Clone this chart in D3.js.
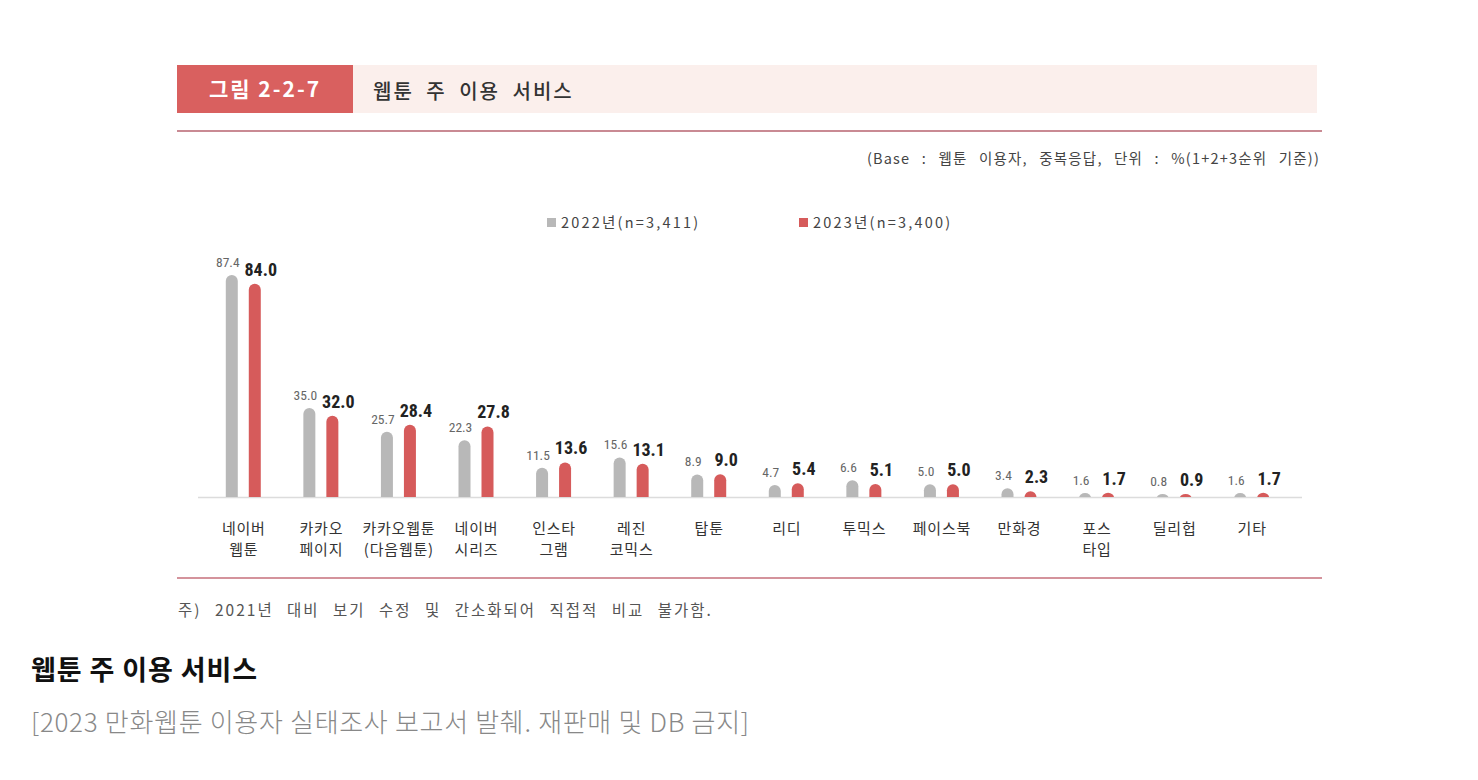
<!DOCTYPE html>
<html><head><meta charset="utf-8">
<script src="https://cdn.jsdelivr.net/npm/d3@7"></script>
<style>
html,body{margin:0;padding:0;background:#fff;}
svg{display:block;}
</style></head>
<body>
<svg id="c" width="1478" height="780"></svg>
<script>
const categories = [["네이버","웹툰"],["카카오","페이지"],["카카오웹툰","(다음웹툰)"],["네이버","시리즈"],["인스타","그램"],["레진","코믹스"],["탑툰"],["리디"],["투믹스"],["페이스북"],["만화경"],["포스","타입"],["딜리헙"],["기타"]];
const values2022 = [87.4,35.0,25.7,22.3,11.5,15.6,8.9,4.7,6.6,5.0,3.4,1.6,0.8,1.6];
const values2023 = [84.0,32.0,28.4,27.8,13.6,13.1,9.0,5.4,5.1,5.0,2.3,1.7,0.9,1.7];
const seriesNames = ["2022년(n=3,411)","2023년(n=3,400)"];
const colors = ["#b8b8b8","#d65b5b"];

const svg = d3.select("#c");
const KR = "'Noto Sans CJK KR','Noto Sans',sans-serif";
const NUM = "'Liberation Sans Narrow','Roboto Condensed','Liberation Sans',sans-serif";

// header
svg.append("rect").attr("x",177).attr("y",65).attr("width",176).attr("height",48).attr("fill","#d9605f");
svg.append("rect").attr("x",353).attr("y",65).attr("width",964).attr("height",48).attr("fill","#fbefec");
svg.append("text").attr("x",265).attr("y",97).attr("text-anchor","middle").attr("fill","#fff")
  .attr("font-family",KR).attr("font-weight",700).attr("font-size",21).attr("letter-spacing",2).text("그림 2-2-7");
svg.append("text").attr("x",373).attr("y",99).attr("fill","#333").attr("font-family",KR).attr("font-weight",500)
  .attr("font-size",20).attr("letter-spacing",2).attr("word-spacing",6).text("웹툰 주 이용 서비스");
svg.append("line").attr("x1",177).attr("x2",1322).attr("y1",131).attr("y2",131).attr("stroke","#c98a93").attr("stroke-width",2);
svg.append("text").attr("x",1320).attr("y",164).attr("text-anchor","end").attr("fill","#444").attr("font-family",KR).attr("font-size",14.5)
  .attr("letter-spacing",1.2).attr("word-spacing",7)
  .text("(Base : 웹툰 이용자, 중복응답, 단위 : %(1+2+3순위 기준))");

// legend
const legX = [547, 799];
seriesNames.forEach((s,i)=>{
  svg.append("rect").attr("x",legX[i]).attr("y",218).attr("width",9).attr("height",9).attr("fill",colors[i]);
  svg.append("text").attr("x",legX[i]+14).attr("y",228).attr("fill","#444").attr("font-family",KR).attr("font-size",14.5)
    .attr("letter-spacing",2.2).text(s);
});

// scales
const baseY = 497;
const x = d3.scaleBand().domain(d3.range(categories.length)).range([204,1290]).paddingInner(0).paddingOuter(0);
const y = d3.scaleLinear().domain([0,87.4]).range([baseY,275]);
const bw = 12;

svg.append("defs").append("clipPath").attr("id","clipBase").append("rect").attr("x",0).attr("y",0).attr("width",1478).attr("height",baseY);

svg.append("line").attr("x1",198).attr("x2",1302).attr("y1",baseY+0.5).attr("y2",baseY+0.5).attr("stroke","#dcdcdc").attr("stroke-width",1.5);

const g = svg.append("g");
[values2022, values2023].forEach((vals, si)=>{
  vals.forEach((v,i)=>{
    const cx = x(i) + x.bandwidth()/2 + (si===0 ? -11 : 12);
    const top = y(v);
    const r = bw/2;
    g.append("rect").attr("clip-path","url(#clipBase)")
      .attr("x",cx-bw/2).attr("y",Math.min(top, baseY - 3)).attr("width",bw)
      .attr("height",baseY - Math.min(top, baseY-3) + r).attr("rx",r).attr("ry",r)
      .attr("fill",colors[si]);
    const lblY = Math.min(top, baseY-3) - 8;
    g.append("text").attr("x", si===0 ? cx-4 : cx+6).attr("y",lblY).attr("text-anchor","middle")
      .attr("fill", si===0 ? "#666" : "#222")
      .attr("font-family",NUM).attr("font-weight", si===0 ? 400 : 700)
      .attr("font-size", si===0 ? 13.5 : 18)
      .text(v.toFixed(1));
  });
});

// category labels
categories.forEach((lines,i)=>{
  const cx = x(i) + x.bandwidth()/2 + 1;
  const t = svg.append("text").attr("text-anchor","middle").attr("fill","#333").attr("font-family",KR).attr("font-size",15).attr("letter-spacing",0.8);
  lines.forEach((ln,j)=>{
    t.append("tspan").attr("x",cx).attr("y",534 + j*21).text(ln);
  });
});

svg.append("line").attr("x1",177).attr("x2",1322).attr("y1",578).attr("y2",578).attr("stroke","#d4939c").attr("stroke-width",2);
svg.append("text").attr("x",178).attr("y",616).attr("fill","#555").attr("font-family",KR).attr("font-size",15.5)
  .attr("letter-spacing",2).attr("word-spacing",8)
  .text("주) 2021년 대비 보기 수정 및 간소화되어 직접적 비교 불가함.");

// caption
svg.append("text").attr("x",31).attr("y",680).attr("fill","#111").attr("font-family",KR).attr("font-weight",700).attr("font-size",27).attr("letter-spacing",0.9).text("웹툰 주 이용 서비스");
svg.append("text").attr("x",31).attr("y",732).attr("fill","#888").attr("font-family",KR).attr("font-weight",300).attr("font-size",26).attr("letter-spacing",0.7).text("[2023 만화웹툰 이용자 실태조사 보고서 발췌. 재판매 및 DB 금지]");
</script>
</body></html>
